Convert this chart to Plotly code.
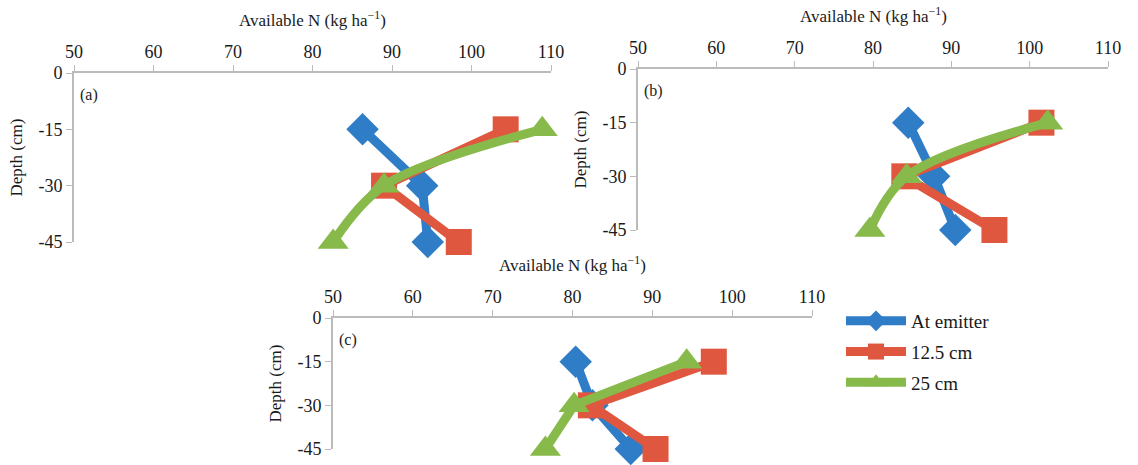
import plotly.graph_objects as go

depth = [-15, -30, -45]
series_names = ["At emitter", "12.5 cm", "25 cm"]

# Available N (kg ha-1) per panel
a_emitter = [86.3, 93.8, 94.5]
a_125 = [104.3, 89.0, 98.4]
a_25 = [108.9, 89.0, 82.6]

b_emitter = [84.5, 87.8, 90.5]
b_125 = [101.5, 84.0, 95.5]
b_25 = [102.3, 84.3, 79.6]

c_emitter = [80.4, 82.5, 87.3]
c_125 = [97.7, 82.3, 90.4]
c_25 = [94.3, 80.2, 76.6]

x_ticks = [50, 60, 70, 80, 90, 100, 110]
y_ticks = [0, -15, -30, -45]
y_tick_text = ["0", "-15", "-30", "-45"]
panel_labels = ["(a)", "(b)", "(c)"]

colors = ["#2F7DC7", "#E0573F", "#88BA4B"]
symbols = ["diamond", "square", "triangle-up"]
msizes = [25, 26, 27]

W, H = 1138, 465
FONT = "Liberation Serif"

panels = [
    # (x0px, x1px, ytop px, ybottom px)
    dict(data=[a_emitter, a_125, a_25], box=(74, 551, 73, 242), smooth=True),
    dict(data=[b_emitter, b_125, b_25], box=(638, 1108, 69, 230), smooth=True),
    dict(data=[c_emitter, c_125, c_25], box=(333, 812, 318, 449), smooth=False),
]

fig = go.Figure()
layout = dict(width=W, height=H, margin=dict(l=0, r=0, t=0, b=0, autoexpand=False),
              paper_bgcolor="white", plot_bgcolor="white",
              font=dict(family=FONT, size=17, color="#1a1a1a"))
annotations = []
for i, p in enumerate(panels):
    n = "" if i == 0 else str(i + 1)
    x0, x1, yt, yb = p["box"]
    xd = [x0 / W, x1 / W]
    yd = [1 - yb / H, 1 - yt / H]
    for k, vals in enumerate(p["data"]):
        shape = "spline" if (k == 2 and p["smooth"]) else "linear"
        fig.add_trace(go.Scatter(
            x=vals, y=depth, mode="lines+markers", name=series_names[k],
            xaxis="x" + n, yaxis="y" + n, showlegend=(i == 0),
            legendgroup=series_names[k],
            cliponaxis=False,
            line=dict(color=colors[k], width=9, shape=shape),
            marker=dict(symbol=symbols[k], size=msizes[k], color=colors[k]),
        ))
    axis_common = dict(ticks="outside", ticklen=6, tickcolor="#bbb", showline=True,
                       linecolor="#bbb", linewidth=2, showgrid=False, zeroline=False,
                       tickfont=dict(size=18, family=FONT), fixedrange=True, automargin=False)
    layout["xaxis" + n] = dict(domain=xd, range=[50, 110], side="top", anchor="y" + n,
                               tickvals=x_ticks, **axis_common)
    layout["yaxis" + n] = dict(domain=yd, range=[-45, 0], anchor="x" + n,
                               tickvals=y_ticks, ticktext=y_tick_text, **axis_common)
    annotations.append(dict(text="Available N (kg ha<sup>\u22121</sup>)", xref="paper", yref="paper",
                            x=(x0 + x1) / 2 / W, y=1 - (yt - 54) / H, showarrow=False,
                            font=dict(size=17, family=FONT), xanchor="center", yanchor="middle"))
    annotations.append(dict(text="Depth (cm)", xref="paper", yref="paper", textangle=-90,
                            x=(x0 - 58) / W, y=1 - (yt + yb) / 2 / H, showarrow=False,
                            font=dict(size=17, family=FONT), xanchor="center", yanchor="middle"))
    annotations.append(dict(text=panel_labels[i], xref="paper", yref="paper",
                            x=(x0 + 4) / W, y=1 - (yt + 22) / H, showarrow=False,
                            font=dict(size=16, family=FONT), xanchor="left", yanchor="middle"))

layout["annotations"] = annotations
layout["legend"] = dict(x=841 / W, y=1 - 302 / H, xanchor="left", yanchor="top",
                        font=dict(size=19, family=FONT), itemwidth=60, tracegroupgap=3,
                        bgcolor="rgba(0,0,0,0)")
fig.update_layout(**layout)
fig.write_html("out.html", config={"displayModeBar": False},
               post_script="document.body.style.margin='0';")
